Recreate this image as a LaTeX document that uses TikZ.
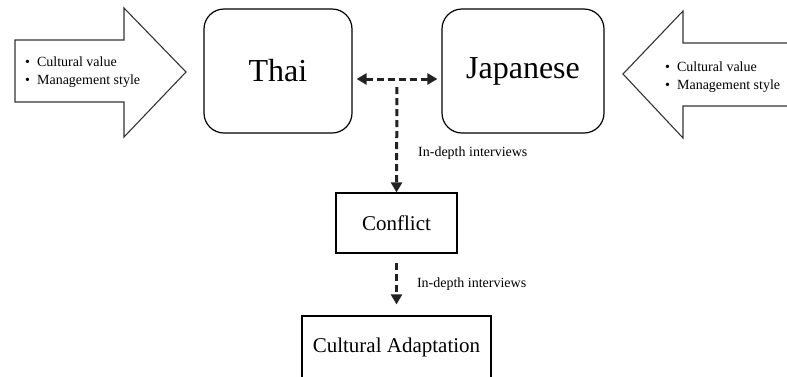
\documentclass[tikz,border=0pt]{standalone}
\usepackage{fontspec}
\setmainfont{Liberation Serif}
\usetikzlibrary{arrows.meta}
\definecolor{lnkgray}{HTML}{222222}
\tikzset{
  panel/.style={draw=black, line width=1.2pt, rounded corners=20pt, inner sep=0pt, font=\fontsize{32}{36}\selectfont},
  plainbox/.style={draw=black, line width=1.2pt, inner sep=0pt, font=\fontsize{21}{24}\selectfont},
  bigarrow/.style={draw=black!80, line width=1.1pt, line join=miter},
  bullets/.style={align=left, inner sep=0pt, font=\fontsize{14}{18}\selectfont},
  dashlink/.style={draw=lnkgray, line width=3pt, dash pattern=on 7pt off 4pt, -{Triangle[length=10pt,width=11pt]}},
  note/.style={inner sep=0pt, font=\fontsize{14}{16}\selectfont, anchor=west},
}

\begin{document}
\begin{tikzpicture}[x=1pt, y=-1pt]
  \useasboundingbox (0,0) rectangle (787,376);
  \clip (0,0) rectangle (787,376);
  % Einflussfaktoren links und rechts
  \draw[bigarrow] (15,40) -- (124,40) -- (124,8) -- (186,72) -- (124,137) -- (124,102) -- (15,102) -- cycle;
  \draw[bigarrow] (792,43) -- (683,43) -- (683,11) -- (623,74) -- (683,138) -- (683,106) -- (792,106);
  \node[bullets, anchor=west] (leftitems) at (25,72) {\textbullet\hspace{7pt}Cultural value\\\textbullet\hspace{7pt}Management style};
  \node[bullets, anchor=west] (rightitems) at (665,77) {\textbullet\hspace{7pt}Cultural value\\\textbullet\hspace{7pt}Management style};
  % Kulturen
  \node[panel, minimum width=148pt, minimum height=124pt] (thai) at (278,71) {Thai};
  \node[panel, minimum width=162pt, minimum height=124pt] (japanese) at (523,71) {Japanese};
  % Ergebnis
  \node[plainbox, minimum width=121pt, minimum height=60pt] (conflict) at (396.5,223) {Conflict};
  \node[plainbox, minimum width=189pt, minimum height=62pt] (adapt) at (396.5,347) {Cultural Adaptation};
  % Verbindungen
  \coordinate (fork) at (397,79);
  \draw[dashlink, {Triangle[length=10pt,width=11pt]}-{Triangle[length=10pt,width=11pt]}, shorten <=4pt, shorten >=4pt] (thai.east |- fork) -- (japanese.west |- fork);
  \draw[dashlink, shorten <=8pt] (fork) -- (conflict.north) node[note, pos=0.65, xshift=20pt] {In-depth interviews};
  \draw[dashlink, shorten <=9pt, shorten >=11pt] (conflict.south) -- (adapt.north) node[note, midway, xshift=19pt] {In-depth interviews};
\end{tikzpicture}
\end{document}
